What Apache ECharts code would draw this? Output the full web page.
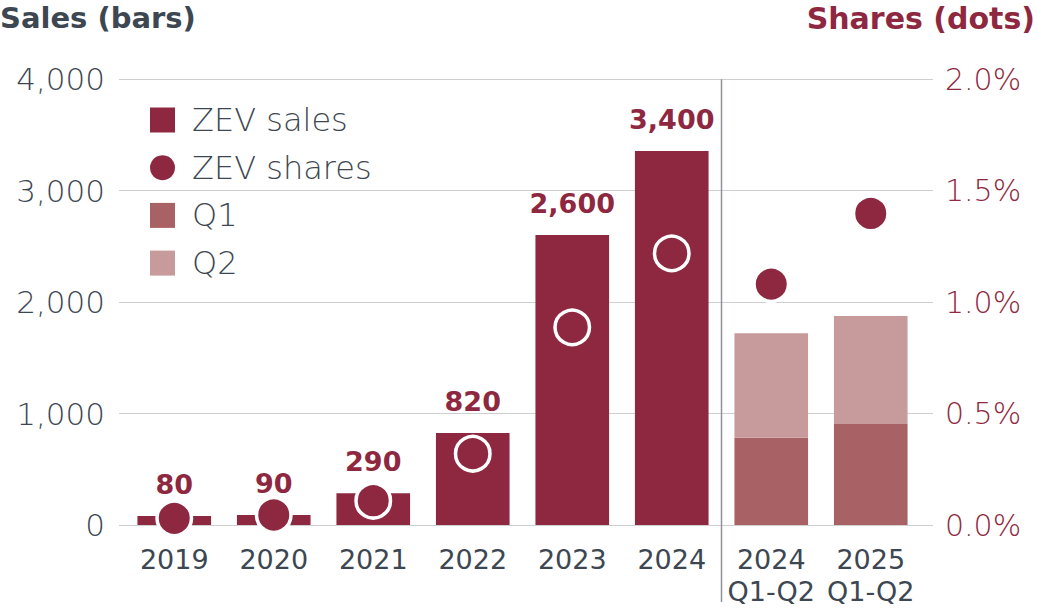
<!DOCTYPE html>
<html>
<head>
<meta charset="utf-8">
<script src="https://cdn.jsdelivr.net/npm/echarts@6/dist/echarts.min.js"></script>
<style>
  html, body { margin: 0; padding: 0; background: #fff; }
  #chart { width: 1037px; height: 613px; }
</style>
</head>
<body>
<div id="chart"></div>
<script>
'use strict';

// chart data
const categories = ['2019', '2020', '2021', '2022', '2023', '2024', '2024\nQ1-Q2', '2025\nQ1-Q2'];
const zevSales = [81, 90, 285, 826, 2603, 3357, '-', '-'];
const salesLabels = ['80', '90', '290', '820', '2,600', '3,400', '', ''];
const q1Sales = ['-', '-', '-', '-', '-', '-', 784, 907];
const q2Sales = ['-', '-', '-', '-', '-', '-', 937, 969];
const zevShares = [0.030, 0.045, 0.109, 0.320, 0.887, 1.219, 1.081, 1.398];
const salesTicks = { min: 0, max: 4000, interval: 1000 };
const shareTicks = { min: 0, max: 2.0, interval: 0.5 };

const DARK = '#8e2840';
const Q1C = '#a86265';
const Q2C = '#c79b9b';
const TEXT = '#3d4752';
const GRIDC = '#cfcfcf';
const FONT = '"DejaVu Sans", sans-serif';

const chart = echarts.init(document.getElementById('chart'), null, { renderer: 'svg' });

const gridTop = 79.3;
const gridBottom = 88;

const option = {
  animation: false,
  textStyle: { fontFamily: FONT },
  title: [
    {
      text: 'Sales (bars)', left: 0, top: 3, padding: 0,
      textStyle: { color: TEXT, fontSize: 29, fontWeight: 'bold', fontFamily: FONT }
    },
    {
      text: 'Shares (dots)', right: 2, top: 3, padding: 0,
      textStyle: { color: DARK, fontSize: 30, fontWeight: 'bold', fontFamily: FONT }
    }
  ],
  legend: {
    orient: 'vertical',
    left: 150, top: 104, padding: 0,
    itemWidth: 25, itemHeight: 25, itemGap: 15.7,
    textStyle: { color: TEXT, fontSize: 32, fontFamily: FONT, fontWeight: 200, padding: [0, 0, 0, 12] },
    data: [
      { name: 'ZEV sales', icon: 'rect' },
      { name: 'ZEV shares', icon: 'circle', itemStyle: { borderWidth: 0 } },
      { name: 'Q1', icon: 'rect' },
      { name: 'Q2', icon: 'rect' }
    ]
  },
  grid: [
    // grid for gridlines and tick labels (wider than the category band)
    { left: 119, right: 104, top: gridTop, bottom: gridBottom },
    // grid for the bars and dots
    { left: 124.5, right: 116.5, top: gridTop, bottom: gridBottom },
    // grid for the separator line
    { left: 124.5, right: 116.5, top: gridTop, bottom: 11 }
  ],
  xAxis: [
    { gridIndex: 0, type: 'value', min: 0, max: 1, show: false },
    {
      gridIndex: 1, type: 'category', data: categories,
      axisLine: { show: false }, axisTick: { show: false },
      axisLabel: {
        color: TEXT, fontSize: 27, fontWeight: 500, fontFamily: FONT,
        margin: 18, lineHeight: 32, interval: 0
      }
    },
    { gridIndex: 2, type: 'value', min: 0, max: categories.length, show: false }
  ],
  yAxis: [
    {
      gridIndex: 0, type: 'value', position: 'left', ...salesTicks,
      axisLine: { show: false }, axisTick: { show: false },
      splitLine: { lineStyle: { color: GRIDC, width: 1.2 } },
      axisLabel: {
        color: TEXT, fontSize: 31, fontFamily: FONT, fontWeight: 200, margin: 14,
        formatter: v => v.toLocaleString('en-US')
      }
    },
    {
      gridIndex: 0, type: 'value', position: 'right', ...shareTicks,
      axisLine: { show: false }, axisTick: { show: false }, splitLine: { show: false },
      axisLabel: {
        color: DARK, fontSize: 30, fontFamily: FONT, fontWeight: 200, margin: 12,
        formatter: v => v.toFixed(1) + '%'
      }
    },
    { gridIndex: 1, type: 'value', ...salesTicks, show: false },
    { gridIndex: 1, type: 'value', ...shareTicks, show: false },
    { gridIndex: 2, type: 'value', min: 0, max: 1, show: false }
  ],
  series: [
    {
      name: 'ZEV sales', type: 'bar', stack: 'sales',
      xAxisIndex: 1, yAxisIndex: 2,
      data: zevSales, barCategoryGap: '26%',
      itemStyle: { color: DARK },
      label: {
        show: true, position: 'top', distance: 18,
        color: DARK, fontSize: 27, fontWeight: 'bold', fontFamily: FONT,
        formatter: p => salesLabels[p.dataIndex]
      }
    },
    {
      name: 'Q1', type: 'bar', stack: 'sales',
      xAxisIndex: 1, yAxisIndex: 2,
      data: q1Sales, itemStyle: { color: Q1C }
    },
    {
      name: 'Q2', type: 'bar', stack: 'sales',
      xAxisIndex: 1, yAxisIndex: 2,
      data: q2Sales, itemStyle: { color: Q2C }
    },
    {
      name: 'ZEV shares', type: 'scatter',
      xAxisIndex: 1, yAxisIndex: 3,
      data: zevShares, symbolSize: 34.5, z: 5,
      itemStyle: { color: DARK, borderColor: '#fff', borderWidth: 3.5, opacity: 1 }
    },
    {
      name: 'separator', type: 'line',
      xAxisIndex: 2, yAxisIndex: 4,
      data: [[6, 0], [6, 1]], symbol: 'none', silent: true,
      lineStyle: { color: '#8c9298', width: 1.5 }
    }
  ]
};

chart.setOption(option);
</script>
</body>
</html>
